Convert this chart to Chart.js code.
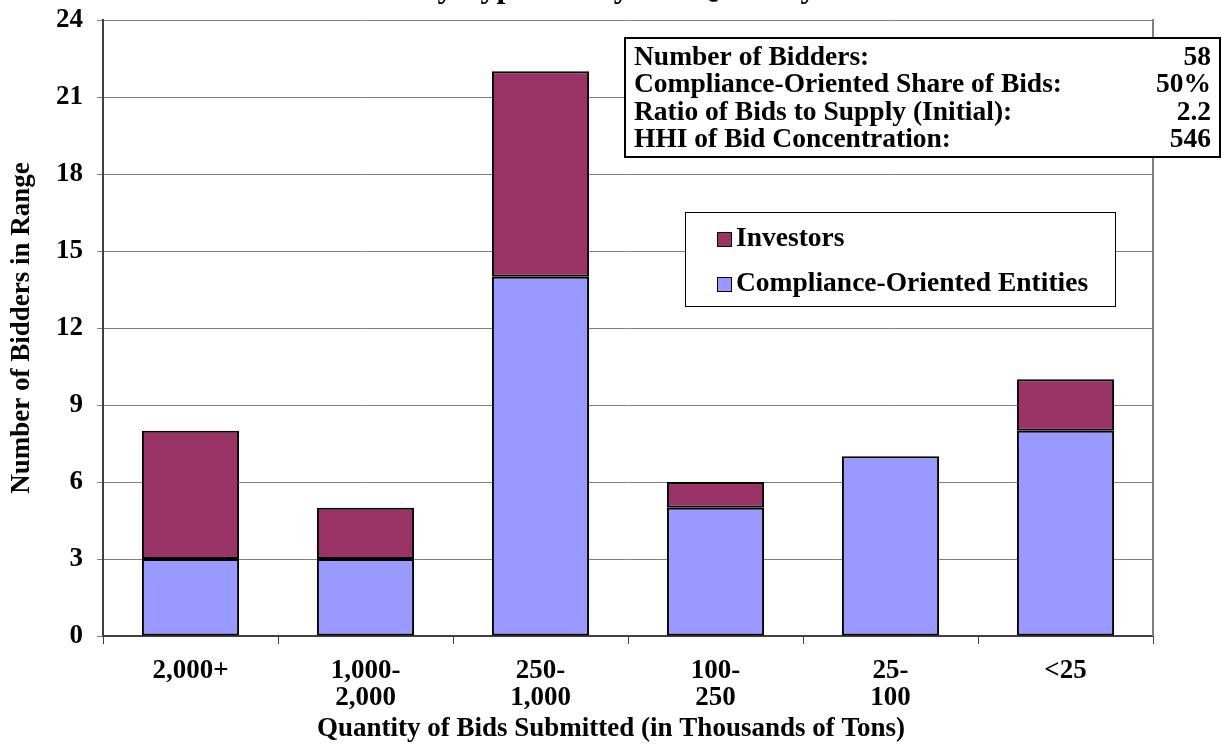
<!DOCTYPE html>
<html>
<head>
<meta charset="utf-8">
<script src="https://cdn.jsdelivr.net/npm/chart.js@4.4.0/dist/chart.umd.min.js"></script>
<style>
  html, body { margin: 0; padding: 0; background: #fff; }
  #wrap { width: 1222px; height: 749px; }
</style>
</head>
<body>
<div id="wrap"><canvas id="chart"></canvas></div>
<script>
// data
var categories = [['2,000+'], ['1,000-', '2,000'], ['250-', '1,000'], ['100-', '250'], ['25-', '100'], ['<25']];
var compliance = [3, 3, 14, 5, 7, 8];
var investors = [5, 2, 8, 1, 0, 2];
var yTicks = [0, 3, 6, 9, 12, 15, 18, 21, 24];

var statLabels = ['Number of Bidders:', 'Compliance-Oriented Share of Bids:', 'Ratio of Bids to Supply (Initial):', 'HHI of Bid Concentration:'];
var statValues = ['58', '50%', '2.2', '546'];

var titleText = 'Bidders by Type and by Bid Quantity';
var xTitle = 'Quantity of Bids Submitted (in Thousands of Tons)';

var serif = '"Liberation Serif", "Times New Roman", serif';

// draws the cut off title, x title, the plot frame, the stats table and the legend box
var extras = {
    id: 'extras',
    afterDraw: function(chart){
        var ctx = chart.ctx;
        var a = chart.chartArea;
        ctx.save();

        // title, mostly off the top of the page
        ctx.fillStyle = '#000';
        ctx.font = 'bold 32px ' + serif;
        ctx.textAlign = 'left';
        ctx.textBaseline = 'alphabetic';
        ctx.fillText(titleText, 305, -3);

        // x axis title (sits a bit left of plot centre in the original)
        ctx.font = 'bold 27px ' + serif;
        ctx.textAlign = 'center';
        ctx.textBaseline = 'middle';
        ctx.fillText(xTitle, 611, 729);

        // right edge of plot frame
        ctx.strokeStyle = '#808080';
        ctx.lineWidth = 2;
        ctx.beginPath();
        ctx.moveTo(a.right, a.top - 1);
        ctx.lineTo(a.right, a.bottom);
        ctx.stroke();

        // stats table
        ctx.fillStyle = '#fff';
        ctx.fillRect(625, 38, 597, 119);
        ctx.strokeStyle = '#000';
        ctx.lineWidth = 2;
        ctx.strokeRect(625, 38, 595, 119);
        ctx.fillStyle = '#000';
        ctx.font = 'bold 27.5px ' + serif;
        ctx.textBaseline = 'middle';
        for (var i = 0; i < statLabels.length; i++) {
            var y = 58 + i * 27.3;
            ctx.textAlign = 'left';
            ctx.fillText(statLabels[i], 634, y);
            ctx.textAlign = 'right';
            ctx.fillText(statValues[i], 1211, y);
        }

        // legend
        ctx.fillStyle = '#fff';
        ctx.fillRect(685, 212, 430, 94);
        ctx.strokeStyle = '#000';
        ctx.lineWidth = 1;
        ctx.strokeRect(685.5, 212.5, 430, 94);
        var sets = chart.data.datasets.slice().reverse();
        for (var j = 0; j < sets.length; j++) {
            var ly = 239 + j * 45;
            ctx.fillStyle = sets[j].backgroundColor;
            ctx.fillRect(717, ly - 7, 15, 15);
            ctx.strokeStyle = '#000';
            ctx.strokeRect(717.5, ly - 6.5, 14, 14);
            ctx.fillStyle = '#000';
            ctx.textAlign = 'left';
            ctx.fillText(sets[j].label, 736, ly);
        }
        ctx.restore();
    }
};

var ctx = document.getElementById('chart').getContext('2d');
var myChart = new Chart(ctx, {
    type: 'bar',
    data: {
        labels: categories,
        datasets: [{
            label: 'Compliance-Oriented Entities',
            data: compliance,
            backgroundColor: '#9999FF',
            borderColor: '#000',
            borderWidth: 2,
            borderSkipped: false
        }, {
            label: 'Investors',
            data: investors,
            backgroundColor: '#993366',
            borderColor: '#000',
            borderWidth: 2,
            borderSkipped: false
        }]
    },
    options: {
        responsive: true,
        maintainAspectRatio: false,
        animation: false,
        layout: { padding: { top: 20, right: 69, left: 0, bottom: 0 } },
        datasets: { bar: { categoryPercentage: 1, barPercentage: 0.555 } },
        plugins: {
            legend: { display: false },
            tooltip: { enabled: false }
        },
        scales: {
            x: {
                stacked: true,
                afterFit: function(s){ s.height = 113; s.paddingLeft = 0; s.paddingRight = 0; },
                grid: { drawOnChartArea: false, drawTicks: true, tickLength: 8, color: '#404040', lineWidth: 1 },
                border: { color: '#404040', width: 2 },
                ticks: {
                    color: '#000',
                    padding: 14,
                    font: { family: serif, size: 27, weight: 'bold', lineHeight: 1.0 },
                    maxRotation: 0,
                    autoSkip: false
                }
            },
            y: {
                stacked: true,
                min: 0,
                max: 24,
                afterFit: function(s){ s.width = 103; s.paddingTop = 0; s.paddingBottom = 0; },
                afterBuildTicks: function(s){ s.ticks = yTicks.map(function(v){ return { value: v }; }); },
                grid: { color: '#808080', lineWidth: 1, tickLength: 6, drawTicks: true },
                border: { color: '#404040', width: 2 },
                ticks: {
                    color: '#000',
                    padding: 14,
                    font: { family: serif, size: 27, weight: 'bold' }
                },
                title: {
                    display: true,
                    text: 'Number of Bidders in Range',
                    color: '#000',
                    font: { family: serif, size: 27, weight: 'bold', lineHeight: 1.0 },
                    padding: { top: 9, bottom: 0 }
                }
            }
        }
    },
    plugins: [extras]
});
</script>
</body>
</html>
